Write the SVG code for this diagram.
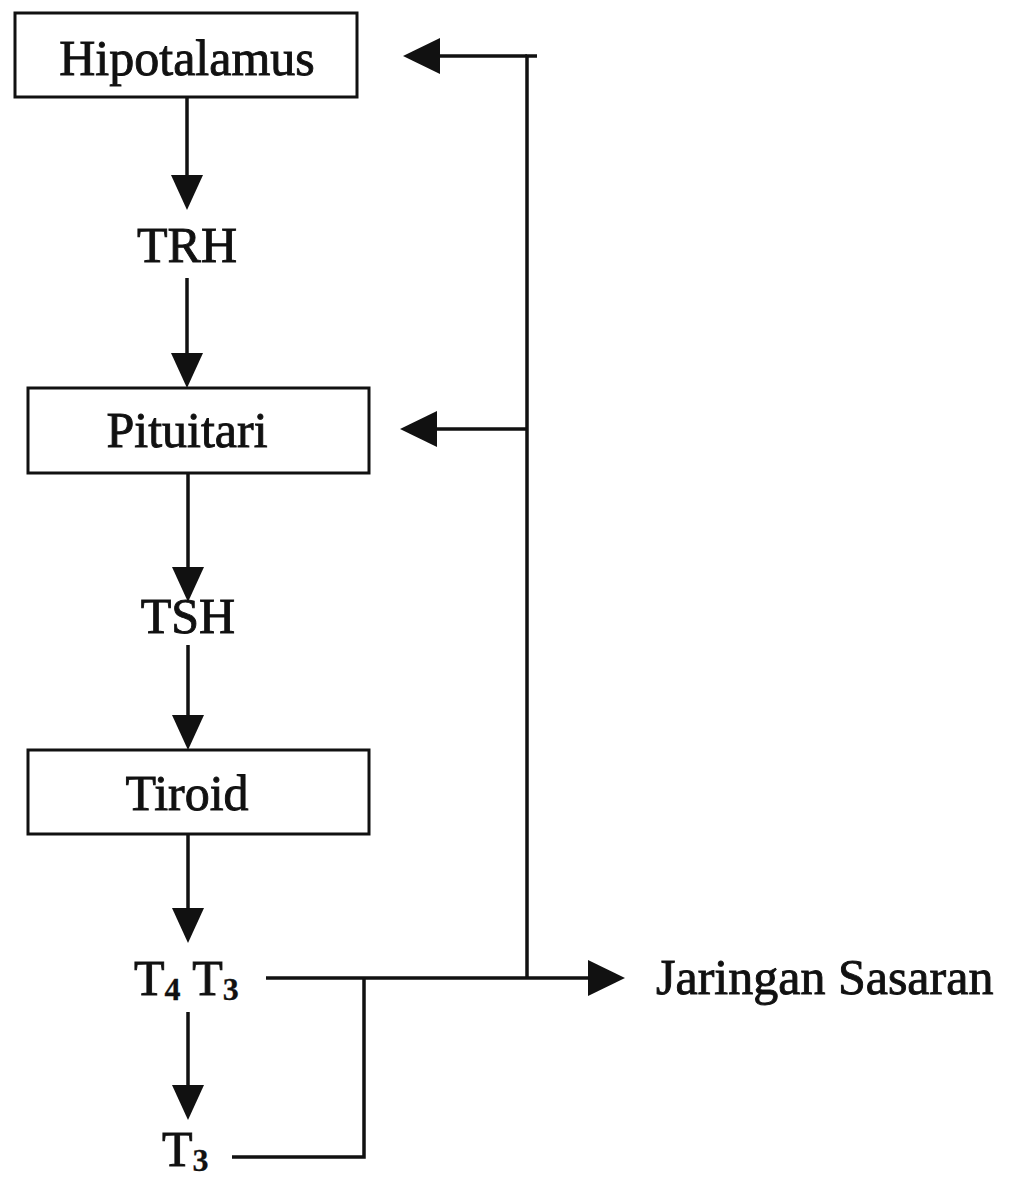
<svg xmlns="http://www.w3.org/2000/svg" width="1018" height="1179" viewBox="0 0 1018 1179">
  <style>
    .box { fill: #ffffff; stroke: #111111; stroke-width: 3; }
    .lbl { font-family: "Liberation Serif", "Times New Roman", serif; font-size: 50px; fill: #111111; stroke: #111111; stroke-width: 0.9; }
    .sub { font-size: 32px; font-weight: bold; stroke-width: 0.3; }
    .line { fill: none; stroke: #111111; stroke-width: 3.5; }
    .head { fill: #111111; stroke: none; }
  </style>
  <defs>
    <polygon id="ah-down" points="-16,-35 16,-35 0,0" />
    <polygon id="ah-left" points="0,0 37,-18 37,18" />
    <polygon id="ah-right" points="0,0 -37,-18 -37,18" />
  </defs>
  <rect width="1018" height="1179" fill="#ffffff"/>

  <g id="node-hipotalamus">
    <rect class="box" x="15" y="13" width="342" height="84"/>
    <text class="lbl" x="187" y="75" text-anchor="middle">Hipotalamus</text>
  </g>
  <g id="node-trh">
    <text class="lbl" x="187" y="262" text-anchor="middle">TRH</text>
  </g>
  <g id="node-pituitari">
    <rect class="box" x="28" y="388" width="341" height="85"/>
    <text class="lbl" x="187" y="447" text-anchor="middle">Pituitari</text>
  </g>
  <g id="node-tsh">
    <text class="lbl" x="188" y="633" text-anchor="middle">TSH</text>
  </g>
  <g id="node-tiroid">
    <rect class="box" x="28" y="750" width="341" height="84"/>
    <text class="lbl" x="187" y="810" text-anchor="middle">Tiroid</text>
  </g>
  <g id="node-t4t3">
    <text class="lbl" x="134" y="995">T<tspan class="sub" dy="5">4</tspan><tspan dy="-5"> T</tspan><tspan class="sub" dy="5">3</tspan></text>
  </g>
  <g id="node-t3">
    <text class="lbl" x="162" y="1166">T<tspan class="sub" dy="5">3</tspan></text>
  </g>
  <g id="node-jaringan">
    <text class="lbl" x="656" y="994">Jaringan Sasaran</text>
  </g>

  <g id="connectors">
    <!-- main downward chain -->
    <line class="line" x1="187" y1="97" x2="187" y2="180"/>
    <use href="#ah-down" class="head" x="187" y="210"/>
    <line class="line" x1="187" y1="278" x2="187" y2="355"/>
    <use href="#ah-down" class="head" x="187" y="388"/>
    <line class="line" x1="188" y1="473" x2="188" y2="570"/>
    <use href="#ah-down" class="head" x="188" y="602"/>
    <line class="line" x1="188" y1="645" x2="188" y2="720"/>
    <use href="#ah-down" class="head" x="188" y="750"/>
    <line class="line" x1="188" y1="834" x2="188" y2="910"/>
    <use href="#ah-down" class="head" x="188" y="943"/>
    <line class="line" x1="188" y1="1012" x2="188" y2="1088"/>
    <use href="#ah-down" class="head" x="188" y="1120"/>

    <!-- output to target tissue -->
    <line class="line" x1="266" y1="978" x2="592" y2="978"/>
    <use href="#ah-right" class="head" x="625" y="978"/>

    <!-- T3 joins the output line -->
    <polyline class="line" points="232,1157 364,1157 364,978"/>

    <!-- feedback loop -->
    <polyline class="line" points="527,978 527,56 537,56"/>
    <line class="line" x1="527" y1="56" x2="437" y2="56"/>
    <use href="#ah-left" class="head" x="403" y="56"/>
    <line class="line" x1="527" y1="429" x2="434" y2="429"/>
    <use href="#ah-left" class="head" x="400" y="429"/>
  </g>
</svg>
